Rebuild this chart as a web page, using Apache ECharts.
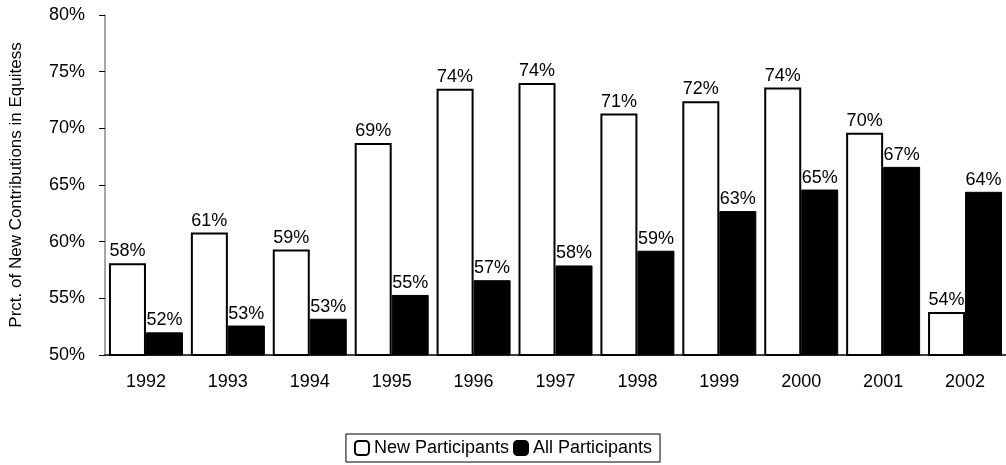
<!DOCTYPE html><html><head><meta charset="utf-8"><script src="https://cdn.jsdelivr.net/npm/echarts@6/dist/echarts.min.js"></script></head><body style="margin:0"><div id="c" style="width:1006px;height:465px"></div><script>
const years=['1992','1993','1994','1995','1996','1997','1998','1999','2000','2001','2002'];
const newP=[58.1,60.8,59.3,68.7,73.5,74.0,71.3,72.4,73.6,69.6,53.8];
const allP=[52.0,52.6,53.2,55.3,56.6,57.9,59.2,62.7,64.6,66.6,64.4];
const f='Liberation Sans, Arial, sans-serif';
const lab={show:true,position:'top',distance:3,color:'#000',fontSize:18,fontFamily:f,formatter:p=>Math.round(p.value)+'%'};
echarts.init(document.getElementById('c')).setOption({animation:false,
grid:{left:98,right:-2,top:15,bottom:110},
legend:{bottom:3,left:'center',itemWidth:14,itemHeight:14,itemGap:4,borderColor:'#000',borderWidth:1,borderRadius:0,padding:[5,8],textStyle:{fontSize:18,fontFamily:f,color:'#000'},data:['New Participants','All Participants']},
xAxis:{type:'category',data:years,axisTick:{show:false},axisLine:{lineStyle:{color:'#000',width:1.5}},axisLabel:{fontSize:18,fontFamily:f,color:'#000',margin:18}},
yAxis:{type:'value',min:50,max:80,interval:5,axisLine:{show:true,lineStyle:{color:'#888',width:1.5}},axisTick:{show:true,length:6,lineStyle:{color:'#000'}},splitLine:{show:false},axisLabel:{fontSize:18,fontFamily:f,color:'#000',margin:20,formatter:'{value}%'},name:'Prct. of New Contributions in Equitess',nameLocation:'middle',nameGap:80,nameTextStyle:{fontSize:17,fontFamily:f,color:'#000'}},
series:[{name:'New Participants',type:'bar',data:newP,barGap:'0%',barWidth:37,itemStyle:{color:'#fff',borderColor:'#000',borderWidth:2},label:lab},
{name:'All Participants',type:'bar',data:allP,barWidth:37,itemStyle:{color:'#000',borderColor:'#000',borderWidth:1},label:lab}]});
</script></body></html>
